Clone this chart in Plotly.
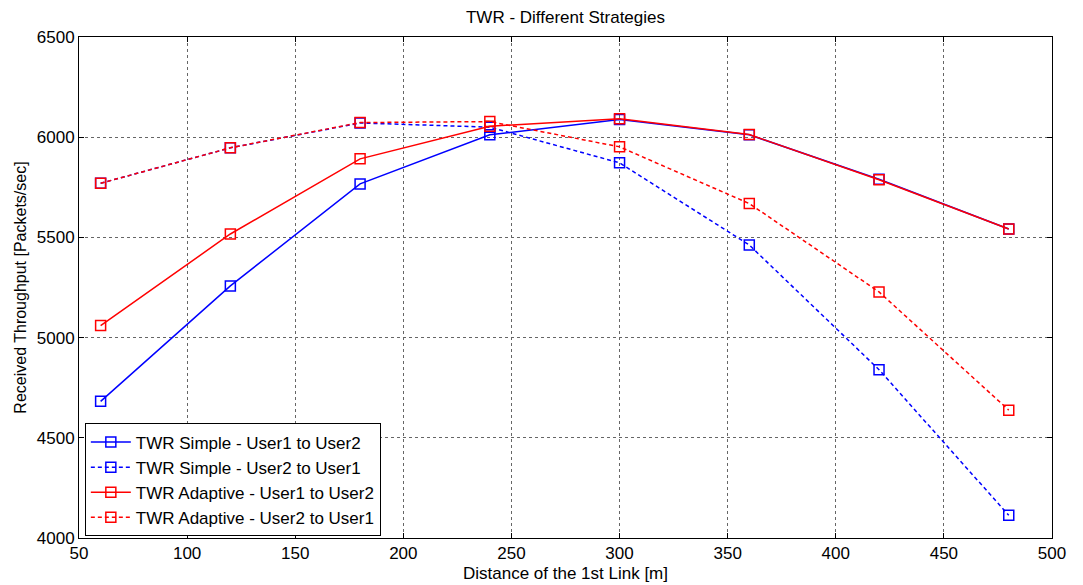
import plotly.graph_objects as go

distance = [60, 120, 180, 240, 300, 360, 420, 480]
simple_u1_u2 = [4682, 5258, 5767, 6012, 6088, 6012, 5790, 5542]
simple_u2_u1 = [5770, 5947, 6071, 6050, 5872, 5462, 4840, 4113]
adaptive_u1_u2 = [5060, 5517, 5892, 6055, 6092, 6013, 5788, 5542]
adaptive_u2_u1 = [5770, 5947, 6073, 6078, 5952, 5669, 5228, 4638]

series = [
    ("TWR Simple - User1 to User2", simple_u1_u2, "#0000ff", "solid"),
    ("TWR Simple - User2 to User1", simple_u2_u1, "#0000ff", "4px,3px"),
    ("TWR Adaptive - User1 to User2", adaptive_u1_u2, "#ff0000", "solid"),
    ("TWR Adaptive - User2 to User1", adaptive_u2_u1, "#ff0000", "4px,3px"),
]

FONT = "Liberation Sans, Arial"

fig = go.Figure()
for name, vals, color, dash in series:
    fig.add_trace(go.Scatter(
        x=distance, y=vals, name=name, mode="lines+markers",
        line=dict(color=color, width=1.5, dash=dash),
        marker=dict(symbol="square-open", size=10, color=color, line=dict(width=1.5, color=color)),
    ))

axis_common = dict(
    showline=True, linecolor="black", linewidth=1, mirror="ticks",
    ticks="inside", ticklen=5, tickcolor="black",
    showgrid=True, gridcolor="#666666", griddash="dot", gridwidth=1,
    zeroline=False, automargin=False,
    tickfont=dict(family=FONT, size=17, color="black"),
)

fig.update_layout(
    width=1083, height=585,
    margin=dict(l=79, r=31, t=37, b=47),
    paper_bgcolor="white", plot_bgcolor="white",
    title=dict(text="TWR - Different Strategies", x=0.5, xref="paper", xanchor="center",
               y=0.971, yanchor="middle",
               font=dict(family=FONT, size=17, color="black")),
    xaxis=dict(range=[50, 500], dtick=50,
               title=dict(text="Distance of the 1st Link [m]", standoff=4,
                          font=dict(family=FONT, size=17, color="black")),
               **axis_common),
    yaxis=dict(range=[4000, 6500], dtick=500,
               title=dict(text="Received Throughput [Packets/sec]", standoff=6,
                          font=dict(family=FONT, size=16, color="black")),
               **axis_common),
    legend=dict(x=0.006, y=0.003, xanchor="left", yanchor="bottom",
                bgcolor="white", bordercolor="black", borderwidth=1,
                font=dict(family=FONT, size=17, color="black"),
                tracegroupgap=0, itemwidth=40),
    showlegend=True,
)

fig.write_html("out.html")
